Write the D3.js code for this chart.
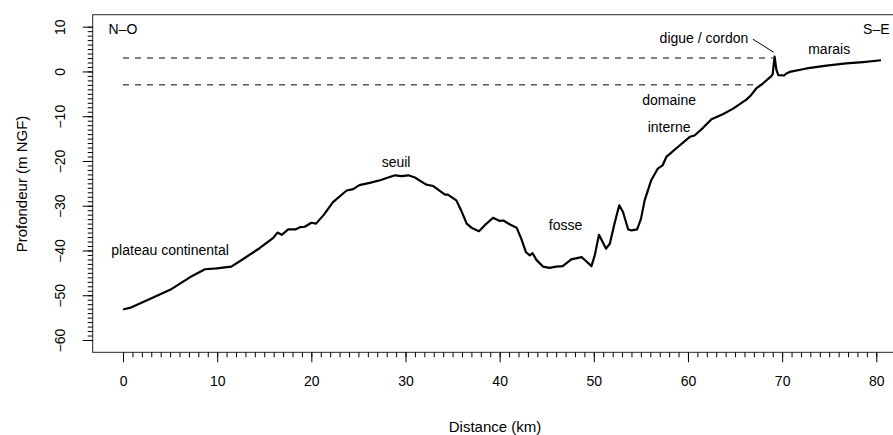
<!DOCTYPE html>
<html>
<head>
<meta charset="utf-8">
<script src="https://cdn.jsdelivr.net/npm/d3@7"></script>
<style>
    body { margin: 0; background: #fff; }
    svg { display: block; font-family: "Liberation Sans", Arial, sans-serif; }
</style>
</head>
<body>
<div id="chart"></div>
<script>
// distance along the profile (km) and depth (m NGF)
var distance = [0, 0.9, 2.5, 5.0, 7.1, 8.7, 9.95, 11.5, 12.4, 14.5, 15.96, 16.4, 16.85, 17.55, 18.3, 18.8, 19.3,
    20.0, 20.5, 21.3, 22.3, 23.75, 24.45, 25.1, 26.2, 27.3, 28.0, 28.9, 29.6, 30.3, 31.0, 32.2, 32.95,
    34.2, 34.5, 35.4, 35.9, 36.5, 37.0, 37.8, 38.4, 39.3, 40.0, 40.4, 41.1, 41.8, 42.3, 42.8, 43.2,
    43.5, 43.9, 44.6, 45.3, 46.0, 46.7, 47.6, 48.7, 49.2, 49.75, 50.1, 50.55, 51.3, 51.7, 52.2, 52.7,
    53.1, 53.65, 54.0, 54.6, 55.0, 55.4, 56.1, 56.8, 57.3, 57.7, 58.8, 60.2, 60.7, 61.6, 62.5, 63.7,
    64.8, 65.85, 66.2, 66.7, 67.25, 67.95, 68.85, 69.0, 69.2, 69.4, 69.6, 70.2, 70.45, 70.8, 72.6,
    74.7, 76.8, 78.6, 80.5];
var depth = [-53.2, -52.7, -51.2, -48.8, -46.0, -44.2, -44.0, -43.6, -42.4, -39.5, -37.2, -36.0, -36.5, -35.3, -35.3, -34.8, -34.7,
    -33.8, -34.0, -32.1, -29.2, -26.6, -26.3, -25.4, -24.9, -24.3, -23.8, -23.2, -23.4, -23.2, -23.7, -25.3, -25.6,
    -27.5, -27.5, -28.8, -31.0, -34.0, -34.9, -35.7, -34.4, -32.7, -33.4, -33.3, -34.2, -34.9, -37.4, -40.4, -41.1,
    -40.6, -42.1, -43.6, -43.9, -43.6, -43.5, -42.0, -41.5, -42.4, -43.5, -41.1, -36.5, -39.6, -38.5, -34.0, -29.9,
    -31.4, -35.3, -35.5, -35.3, -33.0, -28.8, -24.3, -21.7, -21.0, -19.1, -17.1, -14.6, -14.3, -12.6, -10.7, -9.55,
    -8.3, -6.8, -6.3, -5.3, -3.8, -2.7, -1.05, -0.6, 3.3, 0.3, -0.8, -0.9, -0.45, -0.1, 0.67,
    1.3, 1.8, 2.1, 2.5];

// reference levels (dashed) and where they stop
var levels = [3, -3];
var levelEnds = [69.0, 67.6];

var xTicks = [0, 10, 20, 30, 40, 50, 60, 70, 80];
var yTicks = [10, 0, -10, -20, -30, -40, -50, -60];

// annotations: text, km, m
var labels = [
    ["N\u2013O", 0, 9.5],
    ["S\u2013E", 80, 9.5],
    ["plateau continental", 5, -40],
    ["seuil", 29, -20.3],
    ["fosse", 47, -34.2],
    ["digue / cordon", 61.7, 7.5],
    ["marais", 75, 5],
    ["domaine", 58, -6.3],
    ["interne", 58, -12.4]
];

var width = 893,
    height = 435;

var margin = {top: 14.7, left: 92.7, bottom: 82.7, right: -4};

var svg = d3.select("#chart")
    .append("svg")
    .attr("width", width)
    .attr("height", height);

var x = d3.scaleLinear()
    .domain([-3.22, 82.2])
    .range([margin.left, width - margin.right]);

var y = d3.scaleLinear()
    .domain([-62.75, 12.68])
    .range([height - margin.bottom, margin.top]);

// plot box
svg.append("rect")
    .attr("x", x(-3.22))
    .attr("y", y(12.68))
    .attr("width", x(82.2) - x(-3.22))
    .attr("height", y(-62.75) - y(12.68))
    .attr("fill", "none")
    .attr("stroke", "#222")
    .attr("stroke-width", 1);

// x axis: majors every 10 km, minors every km
var xAxis = svg.append("g")
    .attr("transform", "translate(0," + y(-62.75) + ")");

xAxis.call(d3.axisBottom(x).tickValues(d3.range(0, 81, 1)).tickSize(5).tickFormat(""))
    .call(function (g) { g.select(".domain").remove(); });

var xMajor = svg.append("g")
    .attr("transform", "translate(0," + y(-62.75) + ")")
    .call(d3.axisBottom(x).tickValues(xTicks).tickSize(10).tickPadding(14));
xMajor.select(".domain").remove();
xMajor.selectAll("text")
    .attr("font-size", 14)
    .attr("font-family", "Liberation Sans, Arial, sans-serif");

// y axis: majors every 10 m, minors every m
var x0 = x(-3.22);
var yAxis = svg.append("g")
    .attr("transform", "translate(" + x0 + ",0)");

yAxis.call(d3.axisLeft(y).tickValues(d3.range(-60, 11, 1)).tickSize(5).tickFormat(""))
    .call(function (g) { g.select(".domain").remove(); });

var yMajor = svg.append("g")
    .attr("transform", "translate(" + x0 + ",0)")
    .call(d3.axisLeft(y).tickValues(yTicks).tickSize(10).tickFormat(function (d) {
        return d < 0 ? "\u2212" + Math.abs(d) : d;
    }));
yMajor.select(".domain").remove();
// R style: labels parallel to the axis
yMajor.selectAll("text")
    .attr("font-size", 14)
    .attr("font-family", "Liberation Sans, Arial, sans-serif")
    .attr("text-anchor", "middle")
    .attr("dy", null)
    .attr("x", 0)
    .attr("y", 0)
    .attr("dominant-baseline", "central")
    .attr("transform", "translate(" + (60 - x0) + ",0) rotate(-90)");

svg.selectAll(".tick line").attr("stroke", "#000");

// dashed reference levels
svg.selectAll(".level")
    .data(levels)
    .enter().append("line")
    .attr("class", "level")
    .attr("x1", x(0))
    .attr("x2", function (d, i) { return x(levelEnds[i]); })
    .attr("y1", function (d) { return y(d); })
    .attr("y2", function (d) { return y(d); })
    .attr("stroke", "#000")
    .attr("stroke-width", 1)
    .attr("stroke-dasharray", "6,6");

// the profile
var line = d3.line()
    .x(function (d, i) { return x(distance[i]); })
    .y(function (d) { return y(d); });

svg.append("path")
    .datum(depth)
    .attr("d", line)
    .attr("fill", "none")
    .attr("stroke", "#000")
    .attr("stroke-width", 2.2)
    .attr("stroke-linejoin", "round");

// annotations
svg.selectAll(".note")
    .data(labels)
    .enter().append("text")
    .attr("class", "note")
    .attr("x", function (d) { return x(d[1]); })
    .attr("y", function (d) { return y(d[2]); })
    .attr("text-anchor", "middle")
    .attr("dominant-baseline", "central")
    .attr("font-size", 14)
    .attr("fill", "#000")
    .text(function (d) { return d[0]; });

// leader from "digue / cordon" to the crest
svg.append("line")
    .attr("x1", x(66.9))
    .attr("y1", y(7.2))
    .attr("x2", x(69.1))
    .attr("y2", y(4.3))
    .attr("stroke", "#000")
    .attr("stroke-width", 1);

// axis titles
svg.append("text")
    .attr("x", 495)
    .attr("y", 426)
    .attr("text-anchor", "middle")
    .attr("dominant-baseline", "central")
    .attr("font-size", 15)
    .text("Distance (km)");

svg.append("text")
    .attr("transform", "translate(21," + 184 + ") rotate(-90)")
    .attr("text-anchor", "middle")
    .attr("dominant-baseline", "central")
    .attr("font-size", 15)
    .text("Profondeur (m NGF)");
</script>
</body>
</html>
